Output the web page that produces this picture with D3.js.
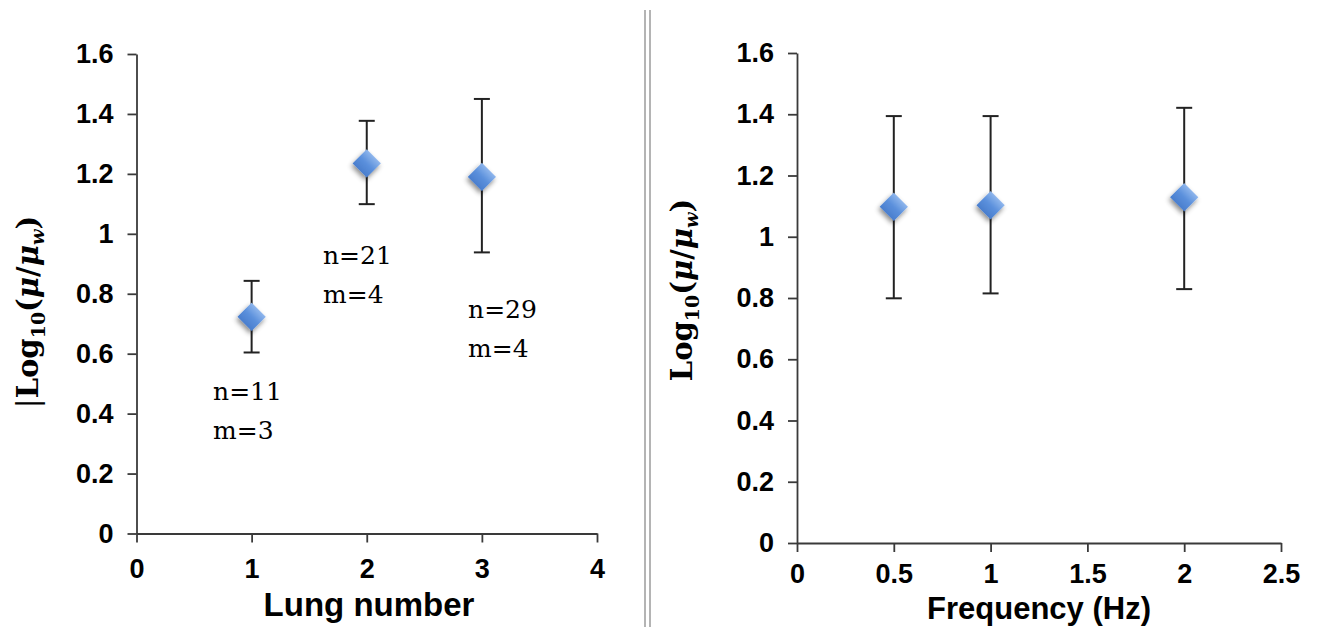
<!DOCTYPE html>
<html>
<head>
<meta charset="utf-8">
<script src="https://cdn.jsdelivr.net/npm/d3@7"></script>
<style>
body { margin: 0; background: #fff; }
svg { display: block; }
</style>
</head>
<body>
<svg id="chart" width="1322" height="627"></svg>
<script>
// shared y ticks
var yTicks = [0, 0.2, 0.4, 0.6, 0.8, 1, 1.2, 1.4, 1.6];

// left panel: lung number
var lungTicks = [0, 1, 2, 3, 4];
var lungNumber = [1, 2, 3];
var lungMean = [0.723, 1.235, 1.19];
var lungUpper = [0.843, 1.377, 1.45];
var lungLower = [0.604, 1.099, 0.938];
var lungN = ["n=11", "n=21", "n=29"];
var lungM = ["m=3", "m=4", "m=4"];

// right panel: frequency
var freqTicks = [0, 0.5, 1, 1.5, 2, 2.5];
var freqHz = [0.5, 1, 2];
var freqMean = [1.098, 1.103, 1.129];
var freqUpper = [1.394, 1.394, 1.421];
var freqLower = [0.799, 0.815, 0.829];

var svg = d3.select("#chart");
var fmt = d3.format("~g");

var defs = svg.append("defs");
var grad = defs.append("linearGradient")
    .attr("id", "diamondGrad")
    .attr("x1", "0").attr("y1", "0").attr("x2", "0").attr("y2", "1");
grad.append("stop").attr("offset", "0%").attr("stop-color", "#8fb6ec");
grad.append("stop").attr("offset", "50%").attr("stop-color", "#5b90dc");
grad.append("stop").attr("offset", "100%").attr("stop-color", "#4a7ecd");
var shadow = defs.append("filter")
    .attr("id", "shadow")
    .attr("x", "-50%").attr("y", "-50%").attr("width", "200%").attr("height", "200%");
shadow.append("feDropShadow")
    .attr("dx", 1).attr("dy", 3).attr("stdDeviation", 2.5)
    .attr("flood-color", "#000").attr("flood-opacity", 0.45);

// separator between the two panels
svg.selectAll(".sep").data([645, 650]).enter().append("line")
    .attr("class", "sep")
    .attr("x1", function (d) { return d; }).attr("x2", function (d) { return d; })
    .attr("y1", 10).attr("y2", 627)
    .attr("stroke", "#b4b4b4").attr("stroke-width", 2);

function drawPanel(opt) {
    var x = d3.scaleLinear().domain(opt.xDomain).range(opt.xRange);
    var y = d3.scaleLinear().domain([0, 1.6]).range(opt.yRange);
    var g = svg.append("g");

    var yAxis = g.append("g")
        .attr("transform", "translate(" + opt.xRange[0] + ",0)")
        .call(d3.axisLeft(y).tickValues(yTicks).tickFormat(fmt)
            .tickSize(9).tickSizeOuter(0).tickPadding(14));
    var xAxis = g.append("g")
        .attr("transform", "translate(0," + opt.yRange[0] + ")")
        .call(d3.axisBottom(x).tickValues(opt.xTicks).tickFormat(fmt)
            .tickSize(9).tickSizeOuter(0).tickPadding(opt.xPad));
    [yAxis, xAxis].forEach(function (a) {
        a.select(".domain").attr("stroke", "#3a3a3a").attr("stroke-width", 1.8);
        a.selectAll(".tick line").attr("stroke", "#3a3a3a").attr("stroke-width", 1.8);
        a.selectAll(".tick text")
            .attr("fill", "#000")
            .style("font-family", "'Liberation Sans', Arial, sans-serif")
            .style("font-weight", "bold")
            .style("font-size", "27px");
    });

    // error bars
    var bars = g.selectAll(".err").data(opt.xs).enter().append("g").attr("class", "err");
    bars.append("line")
        .attr("x1", function (d) { return x(d); }).attr("x2", function (d) { return x(d); })
        .attr("y1", function (d, i) { return y(opt.upper[i]); })
        .attr("y2", function (d, i) { return y(opt.lower[i]); });
    bars.append("line")
        .attr("x1", function (d) { return x(d) - 8; }).attr("x2", function (d) { return x(d) + 8; })
        .attr("y1", function (d, i) { return y(opt.upper[i]); })
        .attr("y2", function (d, i) { return y(opt.upper[i]); });
    bars.append("line")
        .attr("x1", function (d) { return x(d) - 8; }).attr("x2", function (d) { return x(d) + 8; })
        .attr("y1", function (d, i) { return y(opt.lower[i]); })
        .attr("y2", function (d, i) { return y(opt.lower[i]); });
    bars.selectAll("line").attr("stroke", "#222").attr("stroke-width", 2);

    // diamonds
    g.selectAll(".pt").data(opt.xs).enter().append("path")
        .attr("class", "pt")
        .attr("d", d3.symbol().type(d3.symbolSquare).size(400))
        .attr("transform", function (d, i) {
            return "translate(" + x(d) + "," + y(opt.mean[i]) + ") rotate(45)";
        })
        .attr("fill", "url(#diamondGrad)")
        .attr("filter", "url(#shadow)");

    // x title
    g.append("text")
        .attr("x", opt.xTitlePos[0]).attr("y", opt.xTitlePos[1])
        .attr("text-anchor", "middle")
        .style("font-family", "'Liberation Sans', Arial, sans-serif")
        .style("font-weight", "bold")
        .style("font-size", opt.xTitleSize + "px")
        .text(opt.xTitle);

    // y title: Log10(mu/mu_w)
    var t = g.append("text")
        .attr("transform", "translate(" + opt.yTitlePos[0] + "," + opt.yTitlePos[1] + ") rotate(-90)")
        .attr("text-anchor", "middle")
        .style("font-family", "'DejaVu Serif', serif")
        .style("font-weight", "bold")
        .style("font-size", "29px");
    if (opt.bar) t.append("tspan").style("font-weight", "normal").text("|");
    t.append("tspan").text("Log");
    t.append("tspan").attr("dy", 7).style("font-size", "19px").text("10");
    t.append("tspan").attr("dy", -7).text("(");
    t.append("tspan").style("font-style", "italic").text("\u03bc");
    t.append("tspan").text("/");
    t.append("tspan").style("font-style", "italic").text("\u03bc");
    t.append("tspan").attr("dy", 6).style("font-style", "italic").style("font-size", "18px").text("w");
    t.append("tspan").attr("dy", -6).text(")");

    return { x: x, y: y, g: g };
}

var left = drawPanel({
    xDomain: [0, 4], xRange: [136.5, 597], yRange: [533.5, 54],
    xTicks: lungTicks, xs: lungNumber, xPad: 16,
    mean: lungMean, upper: lungUpper, lower: lungLower,
    xTitle: "Lung number", xTitlePos: [369, 616], xTitleSize: 33,
    yTitlePos: [38, 312], bar: true
});

drawPanel({
    xDomain: [0, 2.5], xRange: [797, 1281], yRange: [543, 53],
    xTicks: freqTicks, xs: freqHz, xPad: 12,
    mean: freqMean, upper: freqUpper, lower: freqLower,
    xTitle: "Frequency (Hz)", xTitlePos: [1039, 619], xTitleSize: 31,
    yTitlePos: [692, 290], bar: false
});

// n / m notes beside the lung points (anchor in data units)
var noteAt = [[0.665, 0.445], [1.62, 0.90], [2.88, 0.718]];
var notes = left.g.selectAll(".note").data(noteAt).enter().append("text")
    .attr("class", "note")
    .attr("x", function (d) { return left.x(d[0]); })
    .attr("y", function (d) { return left.y(d[1]); })
    .style("font-family", "'DejaVu Serif', serif")
    .style("font-size", "25px");
notes.append("tspan").text(function (d, i) { return lungN[i]; });
notes.append("tspan")
    .attr("x", function (d) { return left.x(d[0]); })
    .attr("dy", 39)
    .text(function (d, i) { return lungM[i]; });
</script>
</body>
</html>
